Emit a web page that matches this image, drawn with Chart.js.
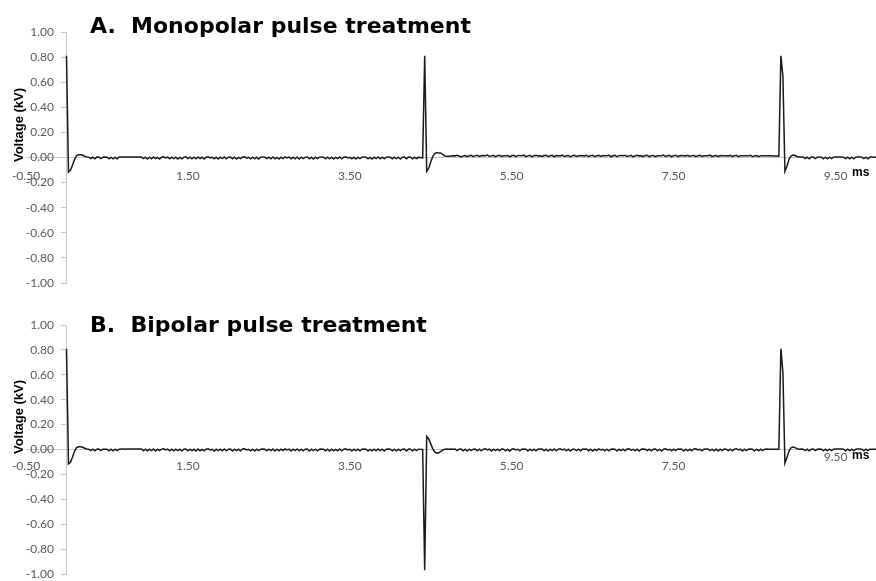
<!DOCTYPE html>
<html><head><meta charset="utf-8">
<script src="https://cdn.jsdelivr.net/npm/chart.js@4.4.1/dist/chart.umd.min.js"></script>
<style>
html,body{margin:0;padding:0;background:#fff;}
#wrap{position:relative;width:876px;height:581px;overflow:hidden;}
.box{position:absolute;left:0;width:876px;}
</style></head><body>
<div id="wrap">
<div class="box" style="top:0;height:298px"><canvas id="cA" width="876" height="298" style="width:876px;height:298px"></canvas></div>
<div class="box" style="top:290px;height:300px"><canvas id="cB" width="876" height="300" style="width:876px;height:300px"></canvas></div>
</div>
<script>
// ---- data ----
const sampleStepMs = 0.025; // oscilloscope sample interval
const xTickValues = [-0.5, 1.5, 3.5, 5.5, 7.5, 9.5];
const xTickLabels = ['-0.50', '1.50', '3.50', '5.50', '7.50', '9.50'];
const yTickValues = [-1, -0.8, -0.6, -0.4, -0.2, 0, 0.2, 0.4, 0.6, 0.8, 1];
const yTickLabels = ['-1.00', '-0.80', '-0.60', '-0.40', '-0.20', '0.00', '0.20', '0.40', '0.60', '0.80', '1.00'];
const panelTitles = ['A.  Monopolar pulse treatment', 'B.  Bipolar pulse treatment'];
const yAxisTitle = 'Voltage (kV)';
const xAxisUnit = 'ms';

// A. Monopolar voltage trace (kV)
const voltageA = [
  0.81, -0.115, -0.10, -0.06, -0.015, 0.015, 0.022, 0.022, 0.018, 0.01, 0.004,
  0.003, -0.008, 0.002, -0.010, 0.003, 0.003, -0.009, 0.002, 0.003, 0.002, -0.010, 0.001, -0.011, 0.002, -0.010, 0.003, 0.003, 0.004, 0.003, 0.004,
  0.004, 0.004, 0.004, 0.004, 0.004, 0.004, 0.004,
  -0.009, 0.003, -0.012, 0.002, -0.010, 0.004, -0.008, 0.001, -0.012, 0.003, 0.006, -0.004, 0.003, -0.011, 0.002, -0.009, 0.003, -0.012, 0.001, -0.010,
  0.003, 0.005, -0.009, 0.002, -0.011, 0.003, -0.010, 0.004, -0.008, 0.002, -0.012, 0.003, 0.006, -0.003, 0.002, -0.010, 0.003, -0.012, 0.002, -0.009,
  0.004, -0.011, 0.002, 0.003, -0.010, 0.003, -0.012, 0.001, -0.009, 0.004, 0.006, -0.005, 0.002, -0.011, 0.003, -0.010, 0.002, -0.012, 0.003, 0.004,
  0.003, -0.009, 0.002, -0.011, 0.004, -0.010, 0.001, -0.012, 0.003, -0.008, 0.005, -0.004, 0.003, -0.011, 0.002, -0.010, 0.004, -0.012, 0.002, -0.009,
  0.003, 0.004, -0.010, 0.002, -0.012, 0.003, -0.009, 0.003, 0.004, 0.003, -0.011, 0.002, -0.010, 0.003, -0.012, 0.001, -0.009, 0.004, -0.011, 0.002,
  0.005, -0.004, 0.002, -0.010, 0.003, -0.012, 0.002, -0.009, 0.003, 0.004, 0.003, -0.010, 0.001, -0.012, 0.003, -0.009, 0.004, -0.011, 0.002, -0.010,
  0.003, 0.004, 0.003, -0.011, 0.002, -0.009, 0.003, -0.012, 0.002, 0.003, -0.010, 0.003, 0.002, -0.011, 0.003, -0.008, 0.002, 0.000,
  -0.004,
  0.81, -0.11, -0.085, -0.035, 0.01, 0.032, 0.04, 0.035, 0.036, 0.022, 0.012, 0.009, 0.010, 0.012,
  0.014, 0.013, 0.018, 0.012, 0.004, 0.013, 0.016, 0.006, 0.014, 0.017,
  0.007, 0.015, 0.018, 0.008, 0.014, 0.016, 0.014, 0.019, 0.008, 0.013,
  0.017, 0.006, 0.015, 0.018, 0.009, 0.014, 0.013, 0.016, 0.005, 0.014,
  0.018, 0.007, 0.015, 0.016, 0.014, 0.019, 0.007, 0.013, 0.017, 0.006,
  0.015, 0.018, 0.013, 0.014, 0.008, 0.016, 0.018, 0.007, 0.014, 0.017,
  0.006, 0.015, 0.014, 0.013, 0.019, 0.008, 0.014, 0.016, 0.005, 0.015,
  0.018, 0.008, 0.014, 0.016, 0.014, 0.013, 0.018, 0.007, 0.015, 0.017,
  0.006, 0.014, 0.018, 0.008, 0.015, 0.013, 0.014, 0.019, 0.006, 0.014,
  0.017, 0.007, 0.015, 0.016, 0.014, 0.018, 0.008, 0.013, 0.017, 0.005,
  0.014, 0.018, 0.013, 0.014, 0.007, 0.016, 0.018, 0.006, 0.015, 0.016,
  0.007, 0.014, 0.013, 0.014, 0.019, 0.008, 0.014, 0.017, 0.006, 0.015,
  0.018, 0.007, 0.014, 0.015, 0.014, 0.013, 0.018, 0.008, 0.015, 0.016,
  0.006, 0.014, 0.018, 0.009, 0.014, 0.013, 0.014, 0.019, 0.007, 0.014,
  0.016, 0.006, 0.015, 0.014, 0.013, 0.014, 0.013, 0.018, 0.008, 0.014,
  0.017, 0.007, 0.014, 0.014, 0.013, 0.014, 0.014, 0.017, 0.006, 0.013,
  0.016, 0.007, 0.014, 0.013, 0.014, 0.014, 0.013, 0.013, 0.012, 0.012,
  0.012,
  0.011, 0.81, 0.65, -0.11, -0.07, -0.015, 0.012, 0.02, 0.016, 0.008, 0.004,
  0.004, 0.004, -0.008, 0.002, -0.010, 0.003, 0.003, -0.009, 0.003, 0.004,
  0.003, -0.010, 0.002, -0.011, 0.002, -0.009, 0.003, 0.004, 0.004, 0.004,
  0.004, 0.003, -0.009, 0.002, -0.011, 0.003, -0.010, 0.003, 0.004, 0.004,
  0.003, -0.009, 0.002, -0.011, 0.003, 0.003, 0.002, 0.002
];

// B. Bipolar voltage trace (kV)
const voltageB = [
  0.81, -0.115, -0.10, -0.06, -0.015, 0.015, 0.022, 0.022, 0.018, 0.01, 0.004,
  0.003, -0.009, 0.002, -0.011, 0.003, 0.004, -0.008, 0.003, 0.003, 0.002, -0.011, 0.002, -0.010, 0.003, -0.009, 0.003, 0.004, 0.004, 0.003, 0.004,
  0.004, 0.004, 0.004, 0.004, 0.004, 0.004, 0.004,
  -0.010, 0.002, -0.011, 0.003, -0.009, 0.004, -0.012, 0.002, -0.008, 0.003, 0.005, -0.004, 0.003, -0.010, 0.002, -0.011, 0.003, -0.009, 0.002, -0.012,
  0.003, 0.004, -0.010, 0.002, -0.009, 0.003, -0.012, 0.004, -0.010, 0.001, -0.011, 0.003, 0.005, -0.004, 0.002, -0.012, 0.003, -0.009, 0.002, -0.011,
  0.004, -0.010, 0.002, 0.003, -0.012, 0.003, -0.009, 0.002, -0.011, 0.004, 0.006, -0.004, 0.002, -0.010, 0.003, -0.012, 0.002, -0.009, 0.003, 0.004,
  0.003, -0.011, 0.002, -0.009, 0.004, -0.012, 0.002, -0.010, 0.003, -0.008, 0.005, -0.003, 0.003, -0.012, 0.002, -0.009, 0.004, -0.011, 0.002, -0.010,
  0.003, 0.004, -0.012, 0.002, -0.009, 0.003, -0.011, 0.003, 0.004, 0.003, -0.010, 0.002, -0.012, 0.003, -0.009, 0.001, -0.011, 0.004, -0.010, 0.002,
  0.005, -0.004, 0.002, -0.012, 0.003, -0.009, 0.002, -0.011, 0.003, 0.004, 0.003, -0.012, 0.001, -0.010, 0.003, -0.011, 0.004, -0.009, 0.002, -0.012,
  0.003, 0.004, 0.003, -0.010, 0.002, -0.011, 0.003, -0.009, 0.002, 0.003, -0.012, 0.003, 0.002, -0.010, 0.003, -0.009, 0.002, 0.001,
  0.000,
  -0.97, 0.105, 0.085, 0.045, 0.005, -0.022, -0.03, -0.027, -0.015, -0.004, 0.002, 0.004, 0.003, 0.004,
  0.003, 0.004, -0.008, 0.002, 0.004, -0.010, 0.002, -0.012, 0.003, -0.009,
  0.002, 0.004, -0.011, 0.003, -0.010, 0.002, 0.005, -0.004, 0.003, -0.012,
  0.002, -0.009, 0.003, -0.011, 0.004, 0.003, -0.010, 0.002, -0.013, 0.003,
  0.006, -0.003, 0.002, -0.010, 0.003, 0.004, 0.003, -0.012, 0.002, -0.009,
  0.003, -0.011, 0.002, 0.004, 0.004, -0.010, 0.003, -0.012, 0.002, -0.009,
  0.004, -0.011, 0.002, 0.006, -0.004, 0.003, -0.010, 0.002, -0.012, 0.003,
  0.003, -0.009, 0.002, -0.011, 0.004, 0.003, 0.004, -0.010, 0.002, -0.012,
  0.003, -0.009, 0.005, -0.004, 0.002, -0.011, 0.003, -0.010, 0.002, 0.004,
  0.003, -0.012, 0.002, -0.009, 0.003, -0.011, 0.004, 0.006, -0.005, 0.002,
  -0.010, 0.003, -0.012, 0.002, 0.004, 0.003, -0.009, 0.002, -0.011, 0.003,
  0.004, -0.010, 0.002, -0.012, 0.003, 0.005, -0.003, 0.002, -0.011, 0.003,
  -0.009, 0.002, 0.004, 0.003, -0.012, 0.002, -0.010, 0.003, -0.011, 0.004,
  0.006, -0.004, 0.002, -0.010, 0.003, 0.004, 0.004, -0.009, 0.002, -0.011,
  0.003, -0.012, 0.002, -0.009, 0.004, 0.003, -0.010, 0.002, -0.011, 0.003,
  0.005, -0.004, 0.003, -0.012, 0.002, -0.009, 0.003, 0.004, 0.003, -0.010,
  0.002, -0.011, 0.003, -0.009, 0.002, 0.004, 0.003, 0.003, 0.002, 0.003,
  0.003,
  0.003, 0.81, 0.62, -0.11, -0.065, -0.012, 0.014, 0.02, 0.015, 0.006, 0.003,
  0.004, 0.003, -0.009, 0.002, -0.011, 0.003, 0.004, -0.008, 0.002, 0.004,
  0.003, -0.011, 0.002, -0.010, 0.003, -0.009, 0.002, 0.004, 0.004, 0.004,
  0.004, 0.003, -0.010, 0.002, -0.009, 0.003, -0.011, 0.003, 0.004, 0.004,
  0.003, -0.010, 0.002, -0.009, 0.003, 0.003, 0.002, 0.002
];

// ---- drawing ----
const overlayText = {
  id: 'overlayText',
  afterDraw(chart, args, o) {
    const ctx = chart.ctx;
    ctx.save();
    ctx.fillStyle = '#000';
    ctx.font = 'bold 22px "DejaVu Sans"';
    ctx.textAlign = 'left';
    ctx.textBaseline = 'alphabetic';
    ctx.fillText(o.title, 90, o.titleBaseline);
    ctx.restore();

    ctx.save();
    ctx.fillStyle = '#000';
    ctx.font = 'bold 13px "Liberation Sans"';
    ctx.translate(19, o.yTitleCenter);
    ctx.rotate(-Math.PI / 2);
    ctx.textAlign = 'center';
    ctx.textBaseline = 'middle';
    ctx.fillText(yAxisTitle, 0, 0);
    ctx.restore();

    ctx.save();
    ctx.fillStyle = '#000';
    ctx.font = 'bold 12px "Liberation Sans"';
    ctx.textAlign = 'left';
    ctx.textBaseline = 'middle';
    ctx.fillText(xAxisUnit, 852, o.unitY);
    ctx.restore();
  }
};

function yScaleBase() {
  return {
    type: 'linear', min: -1, max: 1,
    afterBuildTicks: s => { s.ticks = yTickValues.map(v => ({ value: v })); }
  };
}

function makeChart(id, volts, cfg) {
  const pts = volts.map((v, i) => ({ x: +(i * sampleStepMs).toFixed(3), y: v }));
  return new Chart(document.getElementById(id), {
    type: 'line',
    data: { datasets: [{ data: pts, yAxisID: 'y', borderColor: '#1a1a1a', borderWidth: 1.5, pointRadius: 0, tension: 0, fill: false }] },
    options: {
      responsive: false, animation: false,
      layout: { padding: { left: 26, right: 0, top: cfg.padTop, bottom: cfg.padBottom } },
      plugins: {
        legend: { display: false }, tooltip: { enabled: false }, title: { display: false },
        overlayText: cfg.overlay
      },
      scales: {
        x: {
          type: 'linear', position: { y: 0 }, min: -0.5, max: 10,
          afterBuildTicks: s => { s.ticks = xTickValues.map(v => ({ value: v })); },
          grid: { display: false, drawTicks: false },
          border: { display: true, color: '#c8c8c8', width: 1 },
          ticks: {
            autoSkip: false, maxRotation: 0, padding: cfg.xPad, color: '#595959',
            crossAlign: cfg.xCross,
            font: { family: 'Lato', size: 12, lineHeight: cfg.xLineHeight },
            callback: (v, i) => cfg.xLabel(i)
          }
        },
        // axis line + tick marks, crossing at t = 0
        y: Object.assign(yScaleBase(), {
          position: { x: 0 },
          grid: { display: true, drawOnChartArea: false, drawTicks: true, tickLength: 5, color: '#c8c8c8' },
          border: { display: true, color: '#c8c8c8', width: 1 },
          ticks: { display: false, autoSkip: false }
        }),
        // tick labels, set just left of the axis line
        yLabels: Object.assign(yScaleBase(), {
          axis: 'y',
          position: { x: -0.155 },
          grid: { display: false, drawTicks: false },
          border: { display: false },
          ticks: {
            autoSkip: false, color: '#595959',
            font: { family: 'Lato', size: 12 },
            callback: (v, i) => yTickLabels[i]
          }
        })
      }
    },
    plugins: [overlayText]
  });
}

makeChart('cA', voltageA, {
  padTop: 32, padBottom: 15, xPad: 11, xCross: 'near', xLineHeight: 1.2,
  xLabel: i => xTickLabels[i],
  overlay: { title: panelTitles[0], titleBaseline: 33, yTitleCenter: 125, unitY: 172.5 }
});
makeChart('cB', voltageB, {
  padTop: 35, padBottom: 16, xPad: 8, xCross: 'center', xLineHeight: 1.5,
  xLabel: i => (i === xTickLabels.length - 1 ? [xTickLabels[i], ''] : xTickLabels[i]),
  overlay: { title: panelTitles[1], titleBaseline: 42, yTitleCenter: 127, unitY: 166 }
});
</script>
</body></html>
